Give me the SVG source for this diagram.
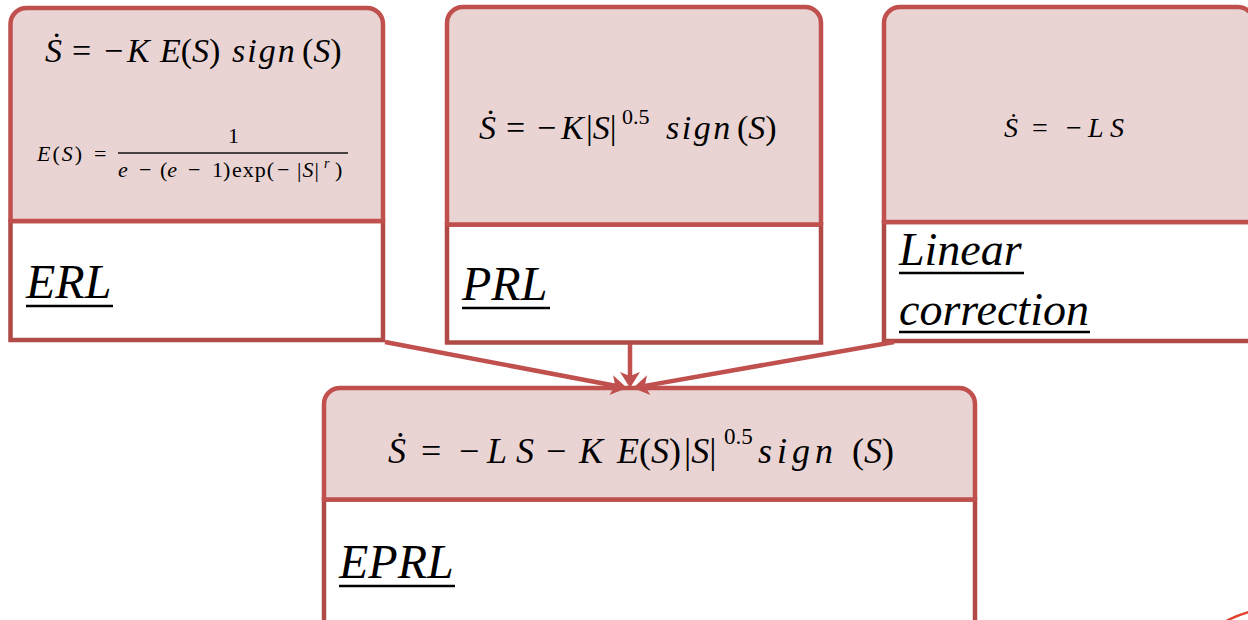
<svg xmlns="http://www.w3.org/2000/svg" width="1248" height="620" viewBox="0 0 1248 620">
  <style>
    .head { fill: #E9D4D3; stroke: #C0504D; stroke-width: 4.5; stroke-linejoin: round; }
    .body { fill: #FFFFFF; stroke: #AF4A47; stroke-width: 4.5; }
    .m { font-family: "Liberation Serif", "DejaVu Serif", serif; fill: #000000; }
    .i { font-style: italic; }
    .lbl { font-family: "Liberation Serif", "DejaVu Serif", serif; font-style: italic; fill: #000000; }
    .ul { stroke: #000000; stroke-width: 2.5; }
    .conn { stroke: #C0504D; stroke-width: 4.5; fill: none; marker-end: url(#arrow); }
  </style>
  <defs>
    <marker id="arrow" markerUnits="userSpaceOnUse" markerWidth="18" markerHeight="22" refX="4" refY="10" orient="auto" viewBox="0 0 18 20">
      <path d="M0,0 L16,10 L0,20 L4,10 Z" fill="#C0504D"/>
    </marker>
  </defs>

  <!-- ERL -->
  <g id="node-erl">
    <rect class="body" x="10.5" y="221" width="372.5" height="119"/>
    <path class="head" d="M10.5,221 V24 A16,16 0 0 1 26.5,8 H367 A16,16 0 0 1 383,24 V221 Z"/>
    <text class="m" y="62" font-size="34"><tspan class="i" x="45">Ṡ</tspan><tspan x="72">=</tspan><tspan x="104">−</tspan><tspan class="i" x="127">K</tspan><tspan x="160"><tspan class="i">E</tspan>(<tspan class="i">S</tspan>)</tspan><tspan class="i" x="232" letter-spacing="2">sign</tspan><tspan x="302">(<tspan class="i">S</tspan>)</tspan></text>
    <text class="m" y="161" font-size="22"><tspan x="37" letter-spacing="2"><tspan class="i">E</tspan>(<tspan class="i">S</tspan>)</tspan><tspan x="94">=</tspan></text>
    <text class="m" x="228" y="143" font-size="22">1</text>
    <line x1="118" y1="153" x2="348" y2="153" stroke="#111111" stroke-width="1.3"/>
    <text class="m" y="177" font-size="22"><tspan class="i" x="118">e</tspan><tspan x="139">−</tspan><tspan x="160">(<tspan class="i">e</tspan></tspan><tspan x="188">−</tspan><tspan x="212">1)</tspan><tspan x="232" letter-spacing="1">exp(</tspan><tspan x="277">−</tspan><tspan x="297" letter-spacing="1">|<tspan class="i">S</tspan>|</tspan><tspan class="i" x="324" y="168" font-size="14">r</tspan><tspan x="335" y="177">)</tspan></text>
    <text class="lbl" x="26" y="298" font-size="48">ERL</text>
    <line class="ul" x1="26" y1="306" x2="113" y2="306"/>
  </g>

  <!-- PRL -->
  <g id="node-prl">
    <rect class="body" x="447" y="224.5" width="374" height="118"/>
    <path class="head" d="M447,224.5 V23 A16,16 0 0 1 463,7 H805 A16,16 0 0 1 821,23 V224.5 Z"/>
    <text class="m" y="139" font-size="34"><tspan class="i" x="479">Ṡ</tspan><tspan x="506">=</tspan><tspan x="537">−</tspan><tspan class="i" x="561">K</tspan><tspan x="586">|<tspan class="i">S</tspan>|</tspan><tspan x="622" y="124" font-size="22">0.5</tspan><tspan class="i" x="666" y="139" letter-spacing="2.5">sign</tspan><tspan x="737">(<tspan class="i">S</tspan>)</tspan></text>
    <text class="lbl" x="462" y="300" font-size="48">PRL</text>
    <line class="ul" x1="462" y1="308" x2="550" y2="308"/>
  </g>

  <!-- Linear correction -->
  <g id="node-linear">
    <rect class="body" x="884" y="222" width="376" height="119"/>
    <path class="head" d="M884,222 V23 A16,16 0 0 1 900,7 H1238 A16,16 0 0 1 1254,23 V222 Z"/>
    <text class="m" y="137" font-size="28"><tspan class="i" x="1004">Ṡ</tspan><tspan x="1032">=</tspan><tspan x="1066">−</tspan><tspan class="i" x="1088">L</tspan><tspan class="i" x="1110">S</tspan></text>
    <text class="lbl" x="899" y="265" font-size="46">Linear</text>
    <line class="ul" x1="899" y1="273" x2="1024" y2="273"/>
    <text class="lbl" x="899" y="325" font-size="46">correction</text>
    <line class="ul" x1="899" y1="332" x2="1090" y2="332"/>
  </g>

  <!-- EPRL -->
  <g id="node-eprl">
    <rect class="body" x="324" y="499.5" width="651" height="140"/>
    <path class="head" d="M324,499.5 V404 A16,16 0 0 1 340,388 H959 A16,16 0 0 1 975,404 V499.5 Z"/>
    <text class="m" y="463" font-size="36"><tspan class="i" x="388">Ṡ</tspan><tspan x="421">=</tspan><tspan x="459">−</tspan><tspan class="i" x="487">L</tspan><tspan class="i" x="516">S</tspan><tspan x="546">−</tspan><tspan class="i" x="579">K</tspan><tspan x="617"><tspan class="i">E</tspan>(<tspan class="i">S</tspan>)</tspan><tspan x="684">|<tspan class="i">S</tspan>|</tspan><tspan x="724" y="444" font-size="23">0.5</tspan><tspan class="i" x="758" y="463" letter-spacing="5">sign</tspan><tspan x="852">(<tspan class="i">S</tspan>)</tspan></text>
    <text class="lbl" x="339" y="578" font-size="48">EPRL</text>
    <line class="ul" x1="339" y1="586" x2="455" y2="586"/>
  </g>

  <!-- connectors -->
  <g id="connectors">
    <line class="conn" x1="385" y1="342" x2="615.2" y2="385.8"/>
    <line class="conn" x1="630" y1="344" x2="630" y2="376"/>
    <line class="conn" x1="894" y1="342" x2="644.8" y2="385.9"/>
    <path d="M1226,621 Q1238,615 1249,612" stroke="#E2402E" stroke-width="2.5" fill="none"/>
  </g>
</svg>
